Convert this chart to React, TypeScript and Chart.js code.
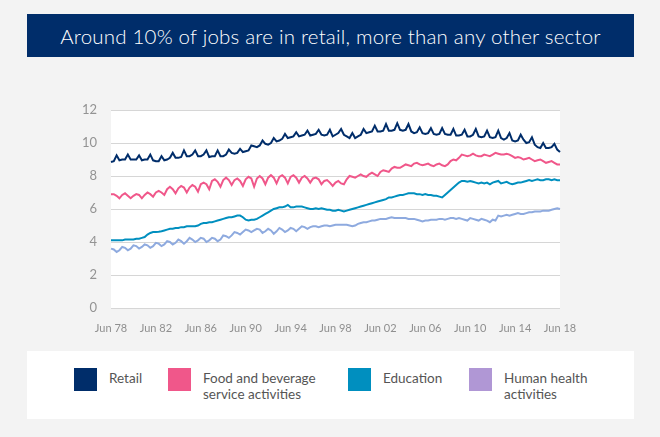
import React, { useEffect, useRef } from "react";
import { Chart, registerables } from "chart.js";

Chart.register(...registerables);

const START_YEAR = 1978;
const END_YEAR = 2018;
const QUARTER_MONTHS = ["Jun", "Sep", "Dec", "Mar"];
const TICK_LABELS = ["Jun 78", "Jun 82", "Jun 86", "Jun 90", "Jun 94", "Jun 98", "Jun 02", "Jun 06", "Jun 10", "Jun 14", "Jun 18"];
const Y_TICKS = [0, 2, 4, 6, 8, 10, 12];

// Quarterly shares (%), rows: Jun, Sep, Dec, Mar of each year
const retail = [
  8.85, 8.9, 9.25, 8.95,
  9.0, 9.0, 9.3, 9.0,
  9.0, 9.0, 9.25, 8.95,
  9.0, 9.0, 9.3, 8.95,
  8.9, 8.9, 9.2, 8.95,
  9.0, 9.1, 9.4, 9.1,
  9.1, 9.15, 9.55, 9.2,
  9.2, 9.3, 9.55, 9.2,
  9.2, 9.3, 9.55, 9.15,
  9.2, 9.2, 9.55, 9.2,
  9.2, 9.3, 9.6, 9.4,
  9.35, 9.4, 9.65, 9.45,
  9.5, 9.55, 9.85, 9.8,
  9.75, 9.85, 10.15, 9.95,
  9.9, 10.0, 10.3, 10.1,
  10.15, 10.25, 10.55, 10.3,
  10.35, 10.4, 10.65, 10.4,
  10.45, 10.5, 10.75, 10.45,
  10.5, 10.55, 10.8, 10.5,
  10.45, 10.5, 10.8, 10.4,
  10.5, 10.6, 10.85, 10.5,
  10.4, 10.3, 10.6, 10.3,
  10.4, 10.5, 10.85, 10.6,
  10.65, 10.7, 11.05, 10.7,
  10.7, 10.75, 11.15, 10.75,
  10.75, 10.8, 11.2, 10.8,
  10.75, 10.8, 11.15, 10.7,
  10.6, 10.65, 10.95, 10.6,
  10.55, 10.6, 10.9, 10.55,
  10.5, 10.55, 10.9, 10.55,
  10.5, 10.5, 10.85, 10.45,
  10.45, 10.5, 10.8, 10.4,
  10.4, 10.5, 10.85, 10.4,
  10.35, 10.4, 10.75, 10.35,
  10.3, 10.35, 10.75, 10.3,
  10.2, 10.3, 10.6, 10.15,
  10.1, 10.15, 10.5, 10.2,
  10.0, 10.05, 10.35, 9.9,
  9.75, 9.7, 10.0, 9.7,
  9.7, 9.75, 9.95, 9.6,
  9.45,
];

const foodBeverage = [
  6.9, 6.9, 6.8, 6.65,
  6.85, 6.95, 6.8, 6.65,
  6.8, 6.9, 6.85, 6.65,
  6.85, 7.0, 6.9, 6.75,
  7.0, 7.1, 7.0, 6.85,
  7.2, 7.35, 7.2, 6.95,
  7.25, 7.4, 7.3, 7.0,
  7.3, 7.45, 7.35, 7.05,
  7.5, 7.6, 7.5, 7.2,
  7.7, 7.8, 7.65, 7.35,
  7.75, 7.9, 7.75, 7.45,
  7.75, 7.85, 7.7, 7.4,
  7.8, 7.95, 7.85, 7.35,
  7.85, 8.0, 7.85, 7.5,
  7.9, 8.05, 7.9, 7.55,
  7.95, 8.05, 7.9, 7.55,
  7.95, 8.05, 7.9, 7.6,
  7.9, 8.0, 7.85, 7.6,
  7.85, 7.9, 7.8, 7.5,
  7.7, 7.75, 7.6, 7.4,
  7.6, 7.7, 7.55, 7.5,
  7.8, 8.0, 7.95, 7.9,
  8.0, 8.1, 8.0, 7.95,
  8.1, 8.2, 8.1, 8.0,
  8.25, 8.35, 8.3, 8.25,
  8.45, 8.55, 8.5, 8.5,
  8.6, 8.7, 8.65, 8.6,
  8.75, 8.8, 8.7, 8.65,
  8.7, 8.75, 8.65, 8.6,
  8.7, 8.75, 8.65, 8.6,
  8.7, 8.9, 9.0, 8.95,
  9.1, 9.3, 9.25, 9.2,
  9.25, 9.35, 9.25, 9.2,
  9.2, 9.3, 9.25, 9.2,
  9.3, 9.4, 9.35, 9.3,
  9.3, 9.35, 9.3, 9.2,
  9.1, 9.15, 9.1, 9.0,
  9.05, 9.1, 9.0, 8.9,
  8.95, 9.0, 8.9, 8.8,
  8.85, 8.9, 8.8, 8.7,
  8.7,
];

const education = [
  4.1, 4.1, 4.1, 4.1,
  4.1, 4.15, 4.15, 4.15,
  4.15, 4.2, 4.2, 4.25,
  4.3, 4.45, 4.55, 4.6,
  4.6, 4.62, 4.65, 4.7,
  4.75, 4.8, 4.8, 4.85,
  4.85, 4.9, 4.9, 4.95,
  4.95, 4.95, 4.95, 5.0,
  5.1, 5.15, 5.15, 5.2,
  5.2, 5.25, 5.3, 5.35,
  5.4, 5.45, 5.5, 5.5,
  5.55, 5.6, 5.6, 5.5,
  5.35, 5.3, 5.35, 5.35,
  5.4, 5.5, 5.6, 5.7,
  5.8, 5.9, 6.0, 6.05,
  6.1, 6.1, 6.15, 6.25,
  6.1, 6.1, 6.15, 6.15,
  6.15, 6.1, 6.05, 6.0,
  6.0, 6.05, 6.0, 6.05,
  6.0, 5.95, 5.95, 5.9,
  5.9, 5.95, 5.9, 5.85,
  5.9, 5.95, 6.0, 6.05,
  6.1, 6.15, 6.2, 6.25,
  6.3, 6.35, 6.4, 6.45,
  6.5, 6.55, 6.6, 6.7,
  6.7, 6.75, 6.8, 6.85,
  6.85, 6.9, 6.95, 6.95,
  6.95, 6.9, 6.9, 6.85,
  6.9, 6.85, 6.85, 6.8,
  6.8, 6.75, 6.7, 6.85,
  7.0, 7.15, 7.3, 7.45,
  7.6, 7.7, 7.7, 7.65,
  7.7, 7.65, 7.6, 7.55,
  7.6, 7.55, 7.6, 7.5,
  7.6, 7.65, 7.7, 7.55,
  7.6, 7.65, 7.55, 7.5,
  7.55, 7.6, 7.6, 7.65,
  7.7, 7.75, 7.7, 7.75,
  7.8, 7.75, 7.75, 7.8,
  7.8, 7.75, 7.8, 7.75,
  7.75,
];

const humanHealth = [
  3.6, 3.55, 3.4, 3.5,
  3.7, 3.65, 3.5, 3.6,
  3.8, 3.75, 3.6, 3.7,
  3.85, 3.8, 3.65, 3.75,
  3.95, 3.9, 3.75, 3.85,
  4.05, 4.0, 3.85, 3.95,
  4.15, 4.05, 3.9, 4.05,
  4.25, 4.15, 4.0, 4.1,
  4.25, 4.2, 4.0, 4.1,
  4.25, 4.2, 4.05, 4.15,
  4.4, 4.35, 4.25, 4.4,
  4.6, 4.55, 4.45, 4.6,
  4.75, 4.7, 4.6, 4.7,
  4.8, 4.75, 4.55, 4.65,
  4.8, 4.7, 4.5, 4.65,
  4.85, 4.75, 4.6, 4.7,
  4.85, 4.8, 4.65, 4.8,
  4.95, 4.9, 4.8, 4.9,
  4.95, 4.95, 4.9, 4.95,
  5.0, 5.0, 4.95, 5.0,
  5.05, 5.05, 5.05, 5.05,
  5.05, 5.0, 4.95, 5.0,
  5.1, 5.15, 5.2, 5.2,
  5.25, 5.3, 5.3, 5.35,
  5.4, 5.4, 5.4, 5.45,
  5.5, 5.45, 5.45, 5.45,
  5.45, 5.45, 5.4, 5.4,
  5.4, 5.35, 5.3, 5.25,
  5.3, 5.3, 5.35, 5.35,
  5.35, 5.4, 5.4, 5.35,
  5.4, 5.45, 5.45, 5.4,
  5.45, 5.4, 5.35, 5.3,
  5.45, 5.4, 5.35, 5.3,
  5.4, 5.35, 5.3, 5.2,
  5.35, 5.3, 5.6, 5.55,
  5.6, 5.65, 5.6, 5.65,
  5.7, 5.75, 5.7, 5.7,
  5.75, 5.8, 5.8, 5.85,
  5.85, 5.85, 5.9, 5.9,
  5.9, 5.95, 6.0, 6.05,
  6.0,
];

const SERIES = [
  { label: "Retail", legend: ["Retail"], data: retail, line: "#002d6a", swatch: "#002d6a" },
  { label: "Food and beverage service activities", legend: ["Food and beverage", "service activities"], data: foodBeverage, line: "#f0578a", swatch: "#f0578a" },
  { label: "Education", legend: ["Education"], data: education, line: "#008fbf", swatch: "#008fbf" },
  { label: "Human health activities", legend: ["Human health", "activities"], data: humanHealth, line: "#8eaadf", swatch: "#b097d5" },
];

function buildCategories(): string[] {
  const out: string[] = [];
  for (let y = START_YEAR; y < END_YEAR; y++) {
    for (let q = 0; q < 4; q++) {
      const yr = q === 3 ? y + 1 : y;
      out.push(QUARTER_MONTHS[q] + " " + String(yr % 100).padStart(2, "0"));
    }
  }
  out.push("Jun " + String(END_YEAR % 100).padStart(2, "0"));
  return out;
}

const plotBg = {
  id: "plotBg",
  beforeDraw(chart: any) {
    const { ctx, chartArea } = chart;
    if (!chartArea) return;
    ctx.save();
    ctx.fillStyle = "#ffffff";
    ctx.fillRect(chartArea.left, chartArea.top, chartArea.right - chartArea.left, chartArea.bottom - chartArea.top);
    ctx.restore();
  },
};

export default function App() {
  const ref = useRef<HTMLCanvasElement | null>(null);

  useEffect(() => {
    if (!ref.current) return;
    const categories = buildCategories();
    const chart = new Chart(ref.current, {
      type: "line",
      data: {
        labels: categories,
        datasets: SERIES.map((s) => ({
          label: s.label,
          data: s.data,
          borderColor: s.line,
          backgroundColor: s.line,
          borderWidth: 2,
          pointRadius: 0,
          tension: 0,
          fill: false,
        })),
      },
      options: {
        responsive: false,
        animation: false,
        events: [],
        layout: { padding: { top: 110, right: 100, left: 0, bottom: 0 } },
        plugins: { legend: { display: false }, tooltip: { enabled: false } },
        scales: {
          x: {
            type: "category",
            grid: { display: false },
            border: { display: false },
            afterFit(scale: any) { scale.height = 32; },
            ticks: {
              autoSkip: false,
              maxRotation: 0,
              minRotation: 0,
              padding: 6,
              color: "#8f8f8f",
              font: { family: "Lato", size: 11 },
              callback(_v: any, i: number) {
                const lab = categories[i];
                return TICK_LABELS.includes(lab) && i % 16 === 0 ? lab : null;
              },
            },
          },
          y: {
            min: Y_TICKS[0],
            max: Y_TICKS[Y_TICKS.length - 1],
            afterFit(scale: any) { scale.width = 111; },
            afterBuildTicks(scale: any) { scale.ticks = Y_TICKS.map((v) => ({ value: v })); },
            grid: { color: "#d6d6d6", lineWidth: 1, drawTicks: false },
            border: { display: false },
            ticks: {
              padding: 14,
              color: "#939393",
              font: { family: "Lato", size: 13 },
            },
          },
        },
      },
      plugins: [plotBg],
    });
    return () => chart.destroy();
  }, []);

  const font = "Lato, 'Open Sans', sans-serif";

  return (
    <div style={{ position: "fixed", left: 0, top: 0, width: 660, height: 437, background: "#f3f3f3", overflow: "hidden", fontFamily: font }}>
      <div style={{ position: "absolute", left: 27, top: 14, width: 607, height: 43, background: "#002d6a", color: "#ffffff", display: "flex", alignItems: "center", justifyContent: "center", fontSize: 20.5, fontWeight: 300, letterSpacing: 0.2 }}>
        Around 10% of jobs are in retail, more than any other sector
      </div>
      <canvas ref={ref} width={660} height={340} style={{ position: "absolute", left: 0, top: 0, width: 660, height: 340 }} />
      <div style={{ position: "absolute", left: 27, top: 351, width: 607, height: 68, background: "#ffffff" }}>
        {SERIES.map((s, i) => {
          const lefts = [47, 141, 321, 442];
          return (
            <div key={s.label} style={{ position: "absolute", left: lefts[i], top: 17, display: "flex", alignItems: "flex-start" }}>
              <div style={{ width: 23, height: 23, background: s.swatch }} />
              <div style={{ marginLeft: 12, fontSize: 13.5, lineHeight: "16px", color: "#555555", marginTop: 2 }}>
                {s.legend.map((l) => (<div key={l}>{l}</div>))}
              </div>
            </div>
          );
        })}
      </div>
    </div>
  );
}
